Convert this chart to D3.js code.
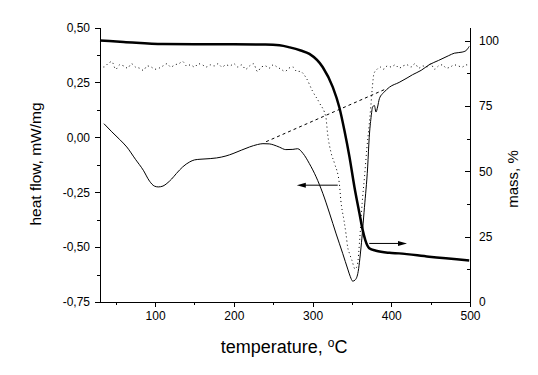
<!DOCTYPE html>
<meta charset="utf-8">
<script src="https://cdn.jsdelivr.net/npm/d3@7"></script>
<style>
body { margin: 0; background: #fff; }
text { font-family: "Liberation Sans", Arial, sans-serif; fill: #000; }
.axis path, .axis line { stroke: #000; stroke-width: 1px; shape-rendering: crispEdges; }
.axis text { font-size: 12px; }
</style>
<body>
<script>

// temperature (°C) / heat flow (mW/mg) for the DSC curve
var dscT = [35, 45, 55, 64, 75, 85, 93, 99, 104, 110, 115, 121, 127, 135, 144, 150, 157, 170, 178, 190, 199, 210, 220, 230, 237, 245, 250, 258, 266, 275, 281, 288, 296, 304.5, 313, 321.5, 330, 338.4, 344.7, 348, 351, 354, 357.5, 361.6, 365.9, 370, 372, 374.3, 376.3, 378.5, 380.6, 382.6, 384.9, 391, 397.6, 410, 420, 427, 438, 448, 460, 473, 480, 490, 495, 499];
var dscV = [0.062, 0.025, -0.01, -0.044, -0.1, -0.15, -0.2, -0.222, -0.226, -0.222, -0.21, -0.19, -0.165, -0.135, -0.112, -0.103, -0.1, -0.097, -0.094, -0.085, -0.074, -0.058, -0.044, -0.033, -0.029, -0.03, -0.034, -0.045, -0.056, -0.055, -0.052, -0.074, -0.12, -0.18, -0.255, -0.345, -0.44, -0.53, -0.6, -0.635, -0.655, -0.65, -0.62, -0.5, -0.32, -0.135, 0.0, 0.09, 0.138, 0.145, 0.115, 0.138, 0.176, 0.206, 0.228, 0.25, 0.27, 0.285, 0.305, 0.33, 0.35, 0.372, 0.383, 0.388, 0.395, 0.414];

// dotted curve (left axis)
var dotT = [30, 35, 40, 45, 50, 55, 60, 65, 70, 75, 80, 85, 90, 95, 100, 105, 110, 115, 120, 125, 130, 135, 140, 145, 150, 155, 160, 165, 170, 175, 180, 185, 190, 195, 200, 205, 210, 215, 220, 225, 230, 235, 240, 245, 250, 255, 260, 265, 270, 275, 280, 284, 292, 300, 309, 317, 319, 323.5, 328, 334, 336, 340, 342.5, 344.6, 347, 350, 354, 357, 360, 363, 366, 369, 372, 374, 376, 378, 382, 386, 390, 395, 400, 405, 410, 415, 420, 425, 430, 435, 440, 445, 450, 455, 460, 465, 470, 475, 480, 485, 490, 495, 500];
var dotV = [0.33, 0.32, 0.335, 0.345, 0.31, 0.33, 0.325, 0.315, 0.335, 0.32, 0.315, 0.305, 0.325, 0.32, 0.31, 0.315, 0.325, 0.335, 0.32, 0.33, 0.335, 0.345, 0.325, 0.33, 0.32, 0.335, 0.33, 0.32, 0.33, 0.325, 0.335, 0.32, 0.33, 0.325, 0.335, 0.32, 0.33, 0.31, 0.325, 0.335, 0.30, 0.32, 0.325, 0.315, 0.33, 0.32, 0.31, 0.30, 0.315, 0.32, 0.30, 0.30, 0.27, 0.21, 0.155, 0.09, 0.02, -0.07, -0.12, -0.21, -0.29, -0.38, -0.44, -0.5, -0.53, -0.56, -0.6, -0.58, -0.46, -0.3, -0.18, -0.05, 0.06, 0.14, 0.23, 0.29, 0.31, 0.32, 0.31, 0.325, 0.32, 0.33, 0.315, 0.325, 0.33, 0.32, 0.335, 0.315, 0.325, 0.32, 0.335, 0.31, 0.325, 0.33, 0.315, 0.32, 0.33, 0.325, 0.32, 0.33, 0.325];

// baseline (dashed), left axis
var baseT = [241, 393];
var baseV = [-0.02, 0.22];

// mass (%) on the right axis
var massT = [30, 60, 110, 150, 200, 240, 258, 271, 285, 296, 313, 325.7, 334, 340.5, 346.9, 353.2, 359.5, 363.7, 367, 372, 380.6, 397.6, 410, 448, 499];
var massV = [100, 99.5, 98.7, 98.6, 98.6, 98.5, 98.2, 97.4, 96.2, 94.9, 89.8, 82.2, 74.5, 65.6, 55.5, 44, 34, 27.5, 23.7, 20.6, 19.6, 18.8, 18.6, 17.3, 15.9];

var xTicks = [100, 200, 300, 400, 500];
var xMinor = [50, 150, 250, 350, 450];
var hfTicks = [-0.75, -0.5, -0.25, 0, 0.25, 0.5];
var hfMinor = [-0.625, -0.375, -0.125, 0.125, 0.375];
var massTicks = [0, 25, 50, 75, 100];
var massMinor = [12.5, 37.5, 62.5, 87.5];

var width = 538, height = 375;
var svg = d3.select("body").append("svg")
    .attr("width", width)
    .attr("height", height);

var x = d3.scaleLinear().domain([30, 500]).range([100, 470]);
var yL = d3.scaleLinear().domain([-0.75, 0.5]).range([302, 27.5]);
var yR = d3.scaleLinear().domain([0, 105]).range([302, 27.5]);

var comma = function(d) { return d3.format(".2f")(d).replace(".", ",").replace("\u2212", "-"); };

// axes
svg.append("g").attr("class", "axis")
    .attr("transform", "translate(0,302)")
    .call(d3.axisBottom(x).tickValues(xTicks).tickSize(5).tickSizeOuter(0).tickPadding(4));
svg.append("g").attr("class", "axis")
    .attr("transform", "translate(0,302)")
    .call(d3.axisBottom(x).tickValues(xMinor).tickSize(3).tickSizeOuter(0).tickFormat(""));

svg.append("g").attr("class", "axis")
    .attr("transform", "translate(100,0)")
    .call(d3.axisLeft(yL).tickValues(hfTicks).tickSize(5).tickSizeOuter(0).tickPadding(5).tickFormat(comma));
svg.append("g").attr("class", "axis")
    .attr("transform", "translate(100,0)")
    .call(d3.axisLeft(yL).tickValues(hfMinor).tickSize(3).tickSizeOuter(0).tickFormat(""));

svg.append("g").attr("class", "axis")
    .attr("transform", "translate(470,0)")
    .call(d3.axisRight(yR).tickValues(massTicks).tickSize(-5).tickSizeOuter(0).tickPadding(9));
svg.append("g").attr("class", "axis")
    .attr("transform", "translate(470,0)")
    .call(d3.axisRight(yR).tickValues(massMinor).tickSize(-3).tickSizeOuter(0).tickFormat(""));

// curves
var lineL = d3.line().x(function(d) { return x(d[0]); }).y(function(d) { return yL(d[1]); }).curve(d3.curveMonotoneX);
var lineR = d3.line().x(function(d) { return x(d[0]); }).y(function(d) { return yR(d[1]); }).curve(d3.curveMonotoneX);

svg.append("path")
    .datum(d3.zip(dotT, dotV))
    .attr("d", lineL)
    .attr("fill", "none")
    .attr("stroke", "#000")
    .attr("stroke-width", 1)
    .attr("stroke-dasharray", "1,3");

svg.append("path")
    .datum(d3.zip(baseT, baseV))
    .attr("d", d3.line().x(function(d) { return x(d[0]); }).y(function(d) { return yL(d[1]); }))
    .attr("fill", "none")
    .attr("stroke", "#000")
    .attr("stroke-width", 1)
    .attr("stroke-dasharray", "3,3");

svg.append("path")
    .datum(d3.zip(dscT, dscV))
    .attr("d", lineL)
    .attr("fill", "none")
    .attr("stroke", "#000")
    .attr("stroke-width", 1);

svg.append("path")
    .datum(d3.zip(massT, massV))
    .attr("d", lineR)
    .attr("fill", "none")
    .attr("stroke", "#000")
    .attr("stroke-width", 2.5);

// arrows
function arrow(x1, x2, yy) {
  var dir = x2 > x1 ? 1 : -1;
  svg.append("line")
      .attr("x1", x1).attr("x2", x2 - dir * 6)
      .attr("y1", yy).attr("y2", yy)
      .attr("stroke", "#000").attr("stroke-width", 1);
  svg.append("path")
      .attr("d", "M" + x2 + "," + yy + "L" + (x2 - dir * 9) + "," + (yy - 2.5) + "L" + (x2 - dir * 9) + "," + (yy + 2.5) + "Z")
      .attr("fill", "#000");
}
arrow(x(332), x(280), yL(-0.218));
arrow(x(372), x(420), yR(22.4));

// titles
svg.append("text")
    .attr("transform", "translate(37,164) rotate(-90)")
    .attr("text-anchor", "middle")
    .attr("dominant-baseline", "middle")
    .style("font-size", "15.5px")
    .text("heat flow, mW/mg");

svg.append("text")
    .attr("transform", "translate(514,179) rotate(-90)")
    .attr("text-anchor", "middle")
    .attr("dominant-baseline", "middle")
    .style("font-size", "15px")
    .text("mass, %");

var xt = svg.append("text")
    .attr("x", 284)
    .attr("y", 353)
    .attr("text-anchor", "middle")
    .style("font-size", "18px");
xt.append("tspan").text("temperature, ");
xt.append("tspan").attr("dy", -6).style("font-size", "12px").text("o");
xt.append("tspan").attr("dy", 6).text("C");

</script>
</body>
